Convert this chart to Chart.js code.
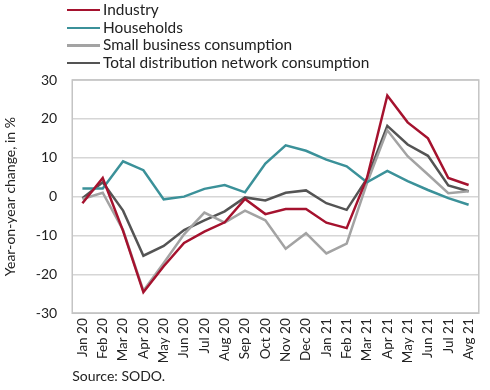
<!DOCTYPE html>
<html>
<head>
<meta charset="utf-8">
<script src="https://cdn.jsdelivr.net/npm/chart.js@4"></script>
<style>
  html, body { margin: 0; padding: 0; background: #fff; }
  #wrap { position: relative; width: 490px; height: 390px; }
  #legend { position: absolute; left: 67px; top: 1px; font-family: Lato, sans-serif; font-size: 15.4px; color: #222; }
  #legend div { height: 17.7px; line-height: 17.7px; white-space: nowrap; }
  #legend span { display: inline-block; width: 33px; height: 2.5px; vertical-align: middle; margin-right: 3px; position: relative; top: -1px; }
</style>
</head>
<body>
<div id="wrap">
  <canvas id="myChart" width="490" height="390"></canvas>
  <div id="legend"></div>
</div>
<script>
const months = ['Jan 20', 'Feb 20', 'Mar 20', 'Apr 20', 'May 20', 'Jun 20', 'Jul 20', 'Aug 20', 'Sep 20', 'Oct 20',
  'Nov 20', 'Dec 20', 'Jan 21', 'Feb 21', 'Mar 21', 'Apr 21', 'May 21', 'Jun 21', 'Jul 21', 'Avg 21'];

const industry   = [-1.7, 4.8, -8.8, -24.6, -17.9, -11.9, -9.0, -6.6, -0.6, -4.5, -3.2, -3.2, -6.7, -8.1, 4.8, 26.0, 19.1, 15.0, 4.8, 3.0];
const households = [2.1, 2.1, 9.1, 6.8, -0.7, 0.0, 2.0, 3.0, 1.1, 8.5, 13.2, 11.8, 9.5, 7.8, 3.7, 6.6, 4.0, 1.7, -0.4, -2.1];
const smallBiz   = [-0.6, 1.0, -8.6, -24.2, -17.1, -9.7, -4.1, -6.7, -3.6, -6.1, -13.4, -9.4, -14.6, -12.1, 3.5, 17.1, 10.4, 5.7, 0.9, 1.4];
const total      = [-0.4, 3.7, -3.6, -15.2, -12.7, -8.6, -6.1, -3.8, -0.2, -1.0, 1.0, 1.6, -1.7, -3.4, 4.6, 18.2, 13.4, 10.5, 2.9, 1.4];

const yTicks = [-30, -20, -10, 0, 10, 20, 30];

const seriesNames  = ['Industry', 'Households', 'Small business consumption', 'Total distribution network consumption'];
const seriesColors = ['#a5122e', '#3b9199', '#a3a3a3', '#545454'];
const seriesData   = [industry, households, smallBiz, total];

// rahmen um die plotfläche
const frame = {
  id: 'frame',
  afterDraw(chart) {
    const { ctx, chartArea: a } = chart;
    ctx.save();
    ctx.strokeStyle = '#c4c4c4';
    ctx.lineWidth = 1.5;
    ctx.strokeRect(a.left, a.top, a.right - a.left, a.bottom - a.top);
    ctx.restore();
  }
};

const ctx = document.getElementById('myChart').getContext('2d');
const myChart = new Chart(ctx, {
  type: 'line',
  data: {
    labels: months,
    datasets: seriesData.map((d, i) => ({
      label: seriesNames[i],
      data: d,
      borderColor: seriesColors[i],
      backgroundColor: seriesColors[i],
      borderWidth: 2.5,
      pointRadius: 0,
      tension: 0,
    }))
  },
  options: {
    responsive: false,
    animation: false,
    layout: { padding: { top: 80, right: 7, left: 2, bottom: 3 } },
    plugins: {
      legend: { display: false },
      tooltip: { enabled: false },
      subtitle: {
        display: true,
        text: 'Source: SODO.',
        position: 'bottom',
        align: 'start',
        fullSize: false,
        color: '#222',
        font: { family: 'Lato', size: 14 },
        padding: { top: 0, bottom: 2 }
      }
    },
    scales: {
      x: {
        offset: true,
        grid: { display: false, drawTicks: false },
        border: { display: false },
        ticks: {
          autoSkip: false,
          minRotation: 90,
          maxRotation: 90,
          padding: 5,
          color: '#222',
          font: { family: 'Lato', size: 13.5 }
        }
      },
      y: {
        min: -30,
        max: 30,
        afterBuildTicks: axis => { axis.ticks = yTicks.map(v => ({ value: v })); },
        grid: { color: '#d6d6d6', lineWidth: 1.5, drawTicks: false },
        border: { display: false },
        ticks: {
          padding: 15,
          color: '#222',
          font: { family: 'Lato', size: 14 }
        },
        title: {
          display: true,
          text: 'Year-on-year change, in %',
          color: '#222',
          font: { family: 'Lato', size: 14 },
          padding: { top: 0, bottom: 2 }
        }
      }
    }
  },
  plugins: [frame]
});

// legende als html, aus den datensätzen
document.getElementById('legend').innerHTML = myChart.data.datasets
  .map(ds => `<div><span style="background:${ds.borderColor}"></span>${ds.label}</div>`)
  .join('');
</script>
</body>
</html>
